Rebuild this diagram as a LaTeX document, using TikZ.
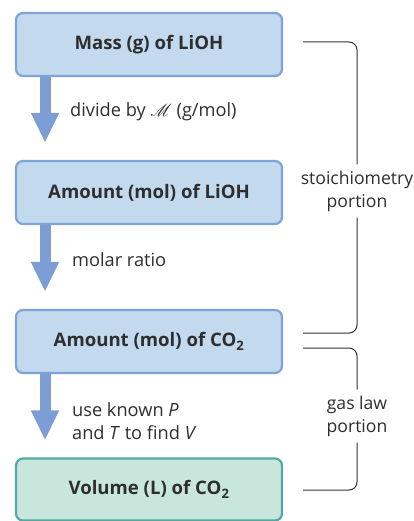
\documentclass[tikz,border=0pt]{standalone}
\usepackage{fontspec}
\setmainfont{Open Sans}
\usepackage{mathrsfs}
\usetikzlibrary{arrows.meta}
\definecolor{boxblue}{HTML}{C2D9EE}
\definecolor{edgeblue}{HTML}{7FA2D7}
\definecolor{arrowblue}{HTML}{7C9ED5}
\definecolor{boxgreen}{HTML}{C9E6DC}
\definecolor{edgegreen}{HTML}{52A9A2}
\definecolor{txt}{HTML}{2E2E2E}
\definecolor{brk}{HTML}{333333}
\tikzset{
  stepbox/.style={draw=edgeblue, fill=boxblue, line width=2.2pt, rounded corners=7pt,
    minimum width=266pt, minimum height=63pt, inner sep=0pt,
    font=\fontsize{18.6}{21}\selectfont\bfseries, text=txt},
  finalbox/.style={stepbox, draw=edgegreen, fill=boxgreen},
  bigarrow/.style={draw=arrowblue, line width=11pt,
    -{Triangle[length=30pt,width=26pt]}, shorten >=17pt},
  steplabel/.style={anchor=west, align=left, inner sep=0pt,
    font=\fontsize{18.2}{23}\selectfont, text=txt},
  brtext/.style={align=center, inner sep=0pt,
    font=\fontsize{17.6}{23}\selectfont, text=txt},
  bracket/.style={draw=brk, line width=1pt, rounded corners=8pt}
}
\begin{document}
\begin{tikzpicture}[x=1pt, y=-1pt]
\useasboundingbox (0,0) rectangle (413,521);

% flow boxes
\node[stepbox] (mass) at (149,44.5) {Mass (g) of LiOH};
\node[stepbox] (amtlioh) at (149,192.5) {Amount (mol) of LiOH};
\node[stepbox] (amtco2) at (149,341.5) {Amount (mol) of CO\textsubscript{2}};
\node[finalbox, minimum height=62pt] (vol) at (149,489.5) {Volume (L) of CO\textsubscript{2}};

% conversion arrows
\draw[bigarrow] ([xshift=-104pt]mass.south) -- ([xshift=-104pt]amtlioh.north);
\draw[bigarrow] ([xshift=-104pt]amtlioh.south) -- ([xshift=-104pt]amtco2.north);
\draw[bigarrow] ([xshift=-104pt]amtco2.south) -- ([xshift=-104pt]vol.north);

% arrow labels
\node[steplabel] (l1) at (70,112) {divide by $\mathscr{M}$ (g/mol)};
\node[steplabel] (l2) at (72,260) {molar ratio};
\node[steplabel] (l3) at (72,421) {use known \textit{P}\\and \textit{T} to find \textit{V}};

% brackets
\node[brtext] (stoich) at (357,191) {stoichiometry\\portion};
\node[brtext] (gaslaw) at (357,416) {gas law\\portion};
\draw[bracket] (303,42) -| ([yshift=6pt]stoich.north);
\draw[bracket] ([yshift=-6pt]stoich.south) |- (303,333);
\draw[bracket] (303,348) -| ([yshift=6pt]gaslaw.north);
\draw[bracket] ([yshift=-6pt]gaslaw.south) |- (303,490);
\end{tikzpicture}
\end{document}
